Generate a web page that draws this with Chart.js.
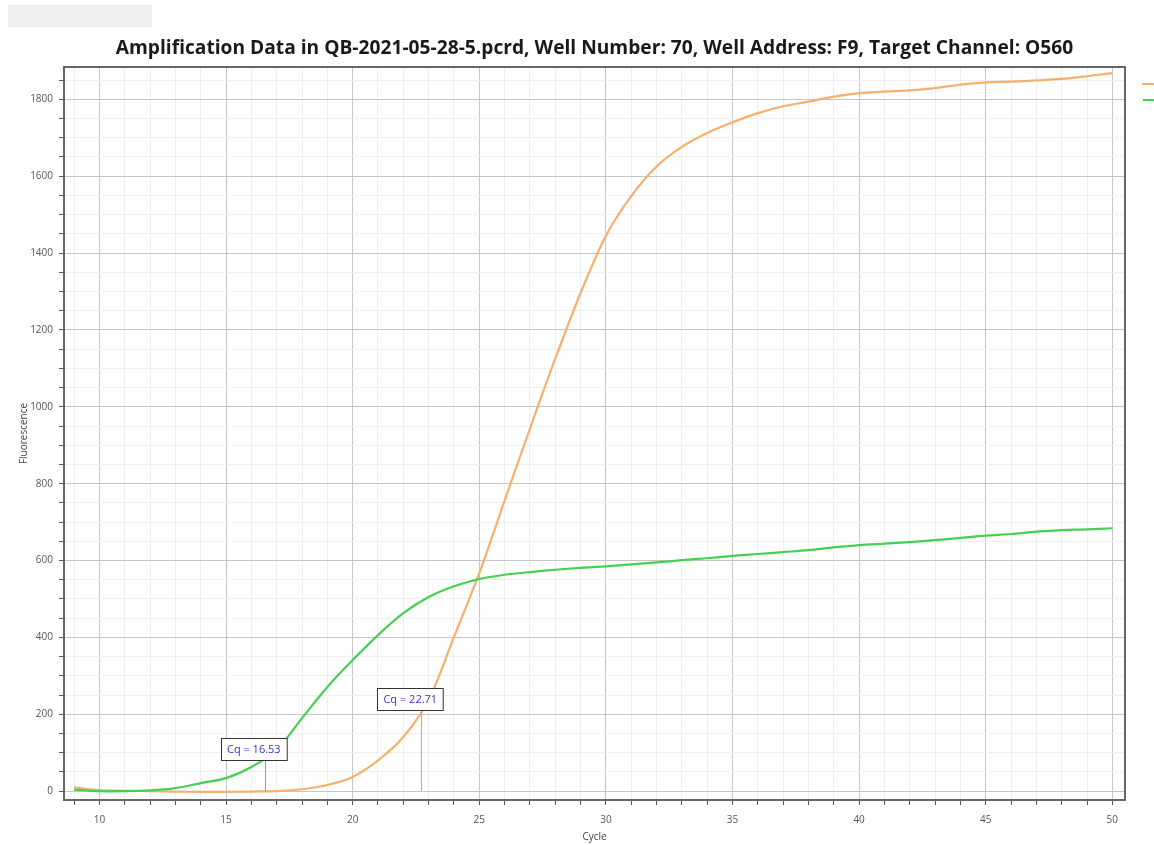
<!DOCTYPE html>
<html>
<head>
<meta charset="utf-8">
<title>Amplification Data</title>
<script src="https://cdn.jsdelivr.net/npm/chart.js"></script>
<style>
  html, body { margin: 0; padding: 0; background: #fff; }
  canvas { display: block; }
</style>
</head>
<body>
<canvas id="ampChart" width="1154" height="845"></canvas>
<script>
// values
const cycles = [9, 10, 11, 12, 13, 14, 15, 16, 17, 18, 19, 20, 21, 22, 23, 24, 25, 26, 27, 28, 29,
  30, 31, 32, 33, 34, 35, 36, 37, 38, 39, 40, 41, 42, 43, 44, 45, 46, 47, 48, 49, 50];
const greenValues = [4, 0, 0, 2, 8, 21, 34, 63, 107, 190, 271, 341, 406, 463, 505, 533, 552, 563, 570, 576, 581,
  585, 590, 595, 601, 606, 612, 617, 622, 627, 634, 640, 644, 648, 653, 659, 665, 669, 675, 679, 681, 684];
const orangeValues = [10, 3, 1, 0, -1, -2, -2, -1, 0, 5, 16, 37, 80, 141, 237, 401, 567, 756, 943, 1125, 1296,
  1445, 1548, 1625, 1676, 1712, 1740, 1764, 1782, 1794, 1807, 1816, 1820, 1823, 1829, 1838, 1844, 1846, 1849, 1853, 1860, 1868];
const seriesNames = ['Green', 'Orange'];
const cqCycles = [16.53, 22.71];
const cqThresholds = [80, 210];
const cqLabels = ['Cq = 16.53', 'Cq = 22.71'];

const titleText = 'Amplification Data in QB-2021-05-28-5.pcrd, Well Number: 70, Well Address: F9, Target Channel: O560';
const green = '#45d052';
const orange = '#f7b06c';
const fontFamily = '"Open Sans", "DejaVu Sans", sans-serif';

const pageDecor = {
  id: 'pageDecor',
  beforeDraw(chart) {
    const ctx = chart.ctx;
    ctx.save();
    ctx.fillStyle = '#eeeff1';
    ctx.fillRect(8, 5, 144, 22);
    ctx.restore();
  },
  afterDraw(chart) {
    const ctx = chart.ctx;
    const area = chart.chartArea;
    ctx.save();
    // title, sized so it spans about the same width as the original
    ctx.font = 'bold 16px ' + fontFamily;
    const size = Math.min(20, 16 * 960 / ctx.measureText(titleText).width);
    ctx.font = 'bold ' + size.toFixed(1) + 'px ' + fontFamily;
    ctx.fillStyle = '#1a1a1a';
    ctx.textAlign = 'center';
    ctx.textBaseline = 'middle';
    ctx.fillText(titleText, (area.left + area.right) / 2, 49);
    // frame
    ctx.strokeStyle = '#666';
    ctx.lineWidth = 2;
    ctx.strokeRect(area.left, area.top, area.right - area.left, area.bottom - area.top);
    // legend stubs (text is cut off in the original)
    ctx.lineWidth = 2;
    ctx.strokeStyle = orange;
    ctx.beginPath(); ctx.moveTo(1142, 84); ctx.lineTo(1154, 84); ctx.stroke();
    ctx.strokeStyle = green;
    ctx.beginPath(); ctx.moveTo(1143, 100); ctx.lineTo(1154, 100); ctx.stroke();
    ctx.restore();
  }
};

const cqMarkers = {
  id: 'cqMarkers',
  afterDatasetsDraw(chart) {
    const ctx = chart.ctx;
    const xs = chart.scales.x, ys = chart.scales.y;
    const colors = [green, '#f29a4a'];
    ctx.save();
    ctx.font = '11px ' + fontFamily;
    ctx.textBaseline = 'middle';
    ctx.textAlign = 'center';
    cqCycles.forEach((cq, i) => {
      const px = xs.getPixelForValue(cq);
      const top = ys.getPixelForValue(cqThresholds[i]);
      const zero = ys.getPixelForValue(0);
      ctx.strokeStyle = colors[i];
      ctx.lineWidth = 1;
      ctx.beginPath();
      ctx.moveTo(Math.round(px) + 0.5, top);
      ctx.lineTo(Math.round(px) + 0.5, zero);
      ctx.stroke();
      const w = ctx.measureText(cqLabels[i]).width + 12;
      const h = 22;
      const cx = px - 11;
      const bx = Math.round(cx - w / 2) + 0.5, by = Math.round(top - h) + 0.5;
      ctx.fillStyle = '#fff';
      ctx.fillRect(bx, by, w, h);
      ctx.strokeStyle = '#333';
      ctx.strokeRect(bx, by, w, h);
      ctx.fillStyle = '#3434c8';
      ctx.fillText(cqLabels[i], cx, top - h / 2);
    });
    ctx.restore();
  }
};

const tickFont = { family: fontFamily, size: 10 };

new Chart(document.getElementById('ampChart').getContext('2d'), {
  type: 'line',
  data: {
    datasets: [
      {
        label: seriesNames[0],
        data: cycles.map((c, i) => ({ x: c, y: greenValues[i] })),
        borderColor: green,
        borderWidth: 2.2,
        pointRadius: 0,
        tension: 0.3,
        fill: false
      },
      {
        label: seriesNames[1],
        data: cycles.map((c, i) => ({ x: c, y: orangeValues[i] })),
        borderColor: orange,
        borderWidth: 2.2,
        pointRadius: 0,
        tension: 0.3,
        fill: false
      }
    ]
  },
  options: {
    responsive: false,
    animation: false,
    layout: { padding: { top: 67, right: 29, left: 0, bottom: 0 } },
    plugins: {
      legend: { display: false },
      title: { display: false },
      tooltip: { enabled: false }
    },
    scales: {
      x: {
        type: 'linear',
        min: 8.6,
        max: 50.5,
        afterFit(scale) { scale.height = 45; },
        ticks: {
          stepSize: 1,
          includeBounds: false,
          autoSkip: false,
          maxRotation: 0,
          padding: 9,
          color: '#555',
          font: tickFont,
          callback: v => (v % 5 === 0 ? String(v) : '')
        },
        grid: {
          color: c => (c.tick && c.tick.value % 5 === 0 ? '#c6c6c6' : '#efefef'),
          tickColor: '#555',
          tickLength: 5
        },
        border: { display: true, color: '#666', width: 2 },
        title: {
          display: true,
          text: 'Cycle',
          color: '#444',
          font: { family: fontFamily, size: 10 },
          padding: { top: 0, bottom: 2 }
        }
      },
      y: {
        type: 'linear',
        min: -23,
        max: 1884,
        afterFit(scale) { scale.width = 64; },
        ticks: {
          stepSize: 50,
          includeBounds: false,
          autoSkip: false,
          padding: 6,
          color: '#555',
          font: tickFont,
          callback: v => (v % 200 === 0 ? String(v) : '')
        },
        grid: {
          color: c => (c.tick && c.tick.value % 200 === 0 ? '#c6c6c6' : '#efefef'),
          tickColor: '#555',
          tickLength: 5
        },
        border: { display: true, color: '#666', width: 2 },
        title: {
          display: true,
          text: 'Fluorescence',
          color: '#444',
          font: { family: fontFamily, size: 10 },
          padding: { top: 18, bottom: 0 }
        }
      }
    }
  },
  plugins: [pageDecor, cqMarkers]
});
</script>
</body>
</html>
